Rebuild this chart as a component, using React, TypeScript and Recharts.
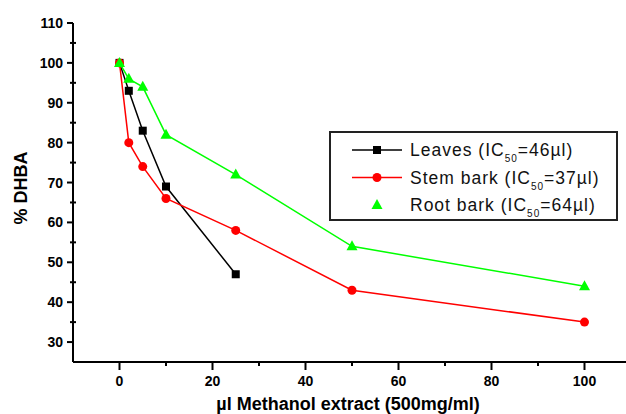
import { Line, LineChart, XAxis, YAxis } from "recharts";

// µl of extract added
const doses = [0, 2, 5, 10, 25, 50, 100];
// % DHBA per extract
const leaves = [100, 93, 83, 69, 47];
const stemBark = [100, 80, 74, 66, 58, 43, 35];
const rootBark = [100, 96, 94, 82, 72, 54, 44];

const xTicks = [0, 10, 20, 30, 40, 50, 60, 70, 80, 90, 100, 110];
const yTicks = [30, 35, 40, 45, 50, 55, 60, 65, 70, 75, 80, 85, 90, 95, 100, 105, 110];

const legendItems = [
  { name: "Leaves", ic50: "46", color: "#000000", shape: "square", line: true },
  { name: "Stem bark", ic50: "37", color: "#ff0000", shape: "circle", line: true },
  { name: "Root bark", ic50: "64", color: "#00ff00", shape: "triangle", line: false },
];

const toPoints = (vals: number[]) => vals.map((v, i) => ({ x: doses[i], y: v }));

const font = "'Liberation Sans', Arial, sans-serif";

function Marker({ shape, cx, cy, color }: any) {
  if (shape === "square")
    return <rect x={cx - 4} y={cy - 4} width={8} height={8} fill={color} />;
  if (shape === "circle") return <circle cx={cx} cy={cy} r={4.5} fill={color} />;
  return (
    <polygon
      points={`${cx},${cy - 6} ${cx - 5.5},${cy + 4} ${cx + 5.5},${cy + 4}`}
      fill={color}
    />
  );
}

const dotFor = (shape: string, color: string) => (props: any) =>
  (
    <Marker
      key={`${shape}-${props.index}`}
      shape={shape}
      cx={props.cx}
      cy={props.cy}
      color={color}
    />
  );

function XTick({ x, y, payload }: any) {
  const major = payload.value % 20 === 0;
  return (
    <g>
      <line x1={x} x2={x} y1={y} y2={y + (major ? 8 : 4)} stroke="#000" strokeWidth={2} />
      {major && payload.value <= 100 && (
        <text
          x={x}
          y={y + 24}
          textAnchor="middle"
          fontFamily={font}
          fontWeight="bold"
          fontSize={14}
          fill="#000"
        >
          {payload.value}
        </text>
      )}
    </g>
  );
}

function YTick({ x, y, payload }: any) {
  const major = payload.value % 10 === 0;
  return (
    <g>
      <line
        x1={major ? x - 6 : x - 3}
        x2={major ? x : x + 3}
        y1={y}
        y2={y}
        stroke="#000"
        strokeWidth={2}
      />
      {major && (
        <text
          x={x - 10}
          y={y + 5}
          textAnchor="end"
          fontFamily={font}
          fontWeight="bold"
          fontSize={14}
          fill="#000"
        >
          {payload.value}
        </text>
      )}
    </g>
  );
}

function LegendBox() {
  return (
    <svg
      width={289}
      height={90}
      style={{ position: "absolute", left: 329, top: 131, display: "block" }}
    >
      <rect x={1} y={1} width={287} height={88} fill="#fff" stroke="#222" strokeWidth={2} />
      {legendItems.map((item, i) => {
        const cy = 19 + i * 27.5;
        return (
          <g key={item.name}>
            {item.line && (
              <line x1={23} x2={73} y1={cy} y2={cy} stroke={item.color} strokeWidth={1.5} />
            )}
            <Marker shape={item.shape} cx={48} cy={cy} color={item.color} />
            <text
              x={81}
              y={cy + 6}
              fontFamily={font}
              fontSize={17.5}
              letterSpacing={1}
              fill="#111"
            >
              {item.name} (IC
              <tspan dy={6} fontSize={10}>
                50
              </tspan>
              <tspan dy={-6}>={item.ic50}µl)</tspan>
            </text>
          </g>
        );
      })}
    </svg>
  );
}

export default function App() {
  return (
    <div
      style={{
        position: "absolute",
        left: 0,
        top: 0,
        width: 626,
        height: 414,
        overflow: "hidden",
        background: "#fff",
      }}
    >
      <LineChart width={640} height={414} margin={{ top: 23, right: 9, left: 0, bottom: 0 }}>
        <XAxis
          type="number"
          dataKey="x"
          domain={[-10, 110]}
          ticks={xTicks}
          allowDataOverflow
          height={52}
          tickSize={0}
          tickMargin={0}
          tickLine={false}
          axisLine={{ stroke: "#000", strokeWidth: 2 }}
          tick={<XTick />}
          interval={0}
          label={{
            content: () => (
              <text
                x={348}
                y={410}
                textAnchor="middle"
                fontFamily={font}
                fontWeight="bold"
                fontSize={18}
                fill="#000"
              >
                µl Methanol extract (500mg/ml)
              </text>
            ),
          }}
        />
        <YAxis
          type="number"
          dataKey="y"
          domain={[25, 110]}
          ticks={yTicks}
          allowDataOverflow
          width={73}
          tickSize={0}
          tickMargin={0}
          tickLine={false}
          axisLine={{ stroke: "#000", strokeWidth: 2 }}
          tick={<YTick />}
          interval={0}
          label={{
            content: () => (
              <text
                x={27}
                y={188}
                transform="rotate(-90 27 188)"
                textAnchor="middle"
                fontFamily={font}
                fontWeight="bold"
                fontSize={18}
                fill="#000"
              >
                % DHBA
              </text>
            ),
          }}
        />
        <Line
          data={toPoints(leaves)}
          dataKey="y"
          stroke="#000000"
          strokeWidth={1.5}
          dot={dotFor("square", "#000000")}
          activeDot={false}
          isAnimationActive={false}
        />
        <Line
          data={toPoints(stemBark)}
          dataKey="y"
          stroke="#ff0000"
          strokeWidth={1.5}
          dot={dotFor("circle", "#ff0000")}
          activeDot={false}
          isAnimationActive={false}
        />
        <Line
          data={toPoints(rootBark)}
          dataKey="y"
          stroke="#00ff00"
          strokeWidth={1.5}
          dot={dotFor("triangle", "#00ff00")}
          activeDot={false}
          isAnimationActive={false}
        />
      </LineChart>
      <LegendBox />
    </div>
  );
}
